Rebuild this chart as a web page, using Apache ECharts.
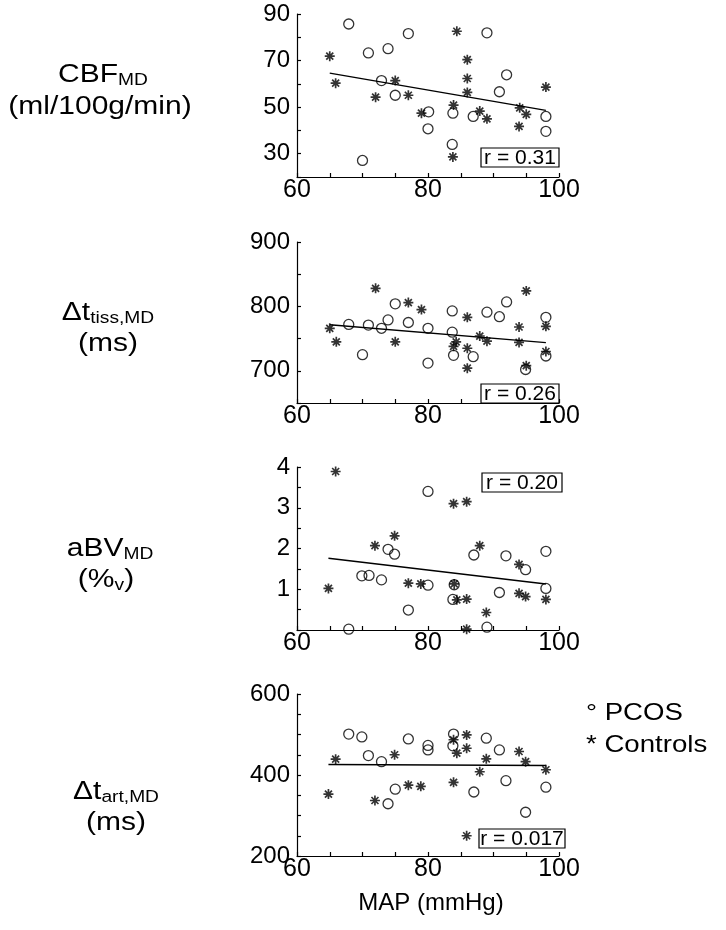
<!DOCTYPE html>
<html>
<head>
<meta charset="utf-8">
<script src="https://cdn.jsdelivr.net/npm/echarts@6/dist/echarts.min.js"></script>
<style>
html,body{margin:0;padding:0;background:#fff;}
#chart{width:726px;height:930px;}
</style>
</head>
<body>
<div id="chart"></div>
<script>
// ---- Panel 1: CBF_MD (ml/100g/min)
const pcosMAP1 = [67.9, 70.9, 73.9, 77.0, 72.9, 75.0, 80.1, 80.0, 70.0, 83.8, 83.7, 86.9, 89.0, 92.0, 90.9, 98.0, 98.0];
const pcosCBF  = [85.7, 73.3, 75.1, 81.6, 61.4, 55.1, 48.0, 40.7, 27.1, 47.4, 34.0, 46.0, 81.9, 63.9, 56.6, 46.0, 39.6];
const ctrlMAP1 = [65.0, 65.9, 72.0, 75.0, 77.0, 79.0, 84.4, 86.0, 86.0, 86.0, 83.9, 87.9, 89.0, 83.8, 94.0, 95.0, 93.9, 98.0];
const ctrlCBF  = [71.9, 60.3, 54.3, 61.4, 55.1, 47.4, 82.6, 70.4, 62.3, 56.3, 50.9, 48.3, 45.0, 28.6, 49.7, 46.9, 41.7, 58.6];
const fitMAP1 = [65.0, 98.0];
const fitCBF  = [64.6, 48.6];

// ---- Panel 2: Δt_tiss,MD (ms)
const pcosMAP2 = [67.9, 70.9, 72.9, 73.9, 75.0, 77.0, 80.0, 70.0, 80.0, 83.7, 83.7, 83.9, 86.9, 89.0, 90.9, 92.0, 98.0, 98.0, 94.9];
const pcosTiss = [772, 771, 766, 779, 804, 775, 766, 725, 712, 793, 760, 724, 722, 791, 784, 807, 783, 723, 702];
const ctrlMAP2 = [65.0, 66.0, 72.0, 75.0, 77.0, 79.0, 86.0, 84.3, 83.9, 86.0, 86.0, 87.9, 89.0, 93.9, 93.9, 95.0, 95.0, 98.0, 98.0];
const ctrlTiss = [766, 745, 828, 745, 806, 795, 783, 745, 738, 735, 704, 754, 746, 768, 744, 824, 708, 769, 730];
const fitMAP2  = [65.0, 98.0];
const fitTiss  = [771.6, 743.8];

// ---- Panel 3: aBV_MD (%v)
const pcosMAP3 = [80.0, 73.9, 74.9, 69.9, 71.0, 72.9, 80.0, 84.0, 83.8, 77.0, 67.9, 87.0, 91.9, 90.9, 94.9, 98.0, 98.0, 89.0];
const pcosABV  = [3.40, 1.98, 1.86, 1.33, 1.34, 1.23, 1.10, 1.11, 0.75, 0.49, 0.02, 1.84, 1.82, 0.92, 1.48, 1.93, 1.02, 0.07];
const ctrlMAP3 = [65.9, 64.8, 71.9, 74.9, 77.0, 78.9, 83.9, 85.9, 87.9, 84.0, 84.4, 85.9, 88.9, 85.9, 93.9, 93.9, 94.9, 98.0];
const ctrlABV  = [3.89, 1.02, 2.07, 2.31, 1.15, 1.13, 3.10, 3.15, 2.07, 1.13, 0.74, 0.76, 0.43, 0.02, 1.61, 0.90, 0.82, 0.75];
const fitMAP3  = [64.8, 98.0];
const fitABV   = [1.76, 1.13];

// ---- Panel 4: Δt_art,MD (ms)
const pcosMAP4 = [67.9, 69.9, 70.9, 72.9, 77.0, 80.0, 80.0, 83.9, 83.8, 88.9, 90.9, 75.0, 73.9, 87.0, 91.9, 94.9, 98.0];
const pcosArt  = [501, 494, 448, 433, 489, 473, 462, 501, 472, 491, 462, 365, 329, 358, 386, 308, 370];
const ctrlMAP4 = [65.9, 64.8, 71.9, 74.9, 77.0, 78.9, 83.9, 84.4, 85.9, 85.9, 83.9, 87.9, 88.9, 93.9, 94.9, 98.0, 85.9];
const ctrlArt  = [439, 353, 337, 450, 375, 372, 487, 454, 499, 466, 382, 408, 440, 458, 433, 413, 250];
const fitMAP4  = [64.8, 98.0];
const fitArt   = [426, 423.5];

// ---- axes / labels
const xTickLabels = [60, 80, 100];
const rTexts = ['r = 0.31', 'r = 0.26', 'r = 0.20', 'r = 0.017'];
const yLabelSets = [[30, 50, 70, 90], [700, 800, 900], [1, 2, 3, 4], [200, 400, 600]];
const yRanges = [[20, 90, 10], [650, 900, 50], [0, 4, 0.5], [200, 600, 50]];

const FONT = '"Liberation Sans", Arial, sans-serif';
const zip = (a, b) => a.map((v, i) => [v, b[i]]);

const panels = [
  {pm: pcosMAP1, pv: pcosCBF, cm: ctrlMAP1, cv: ctrlCBF, fm: fitMAP1, fv: fitCBF},
  {pm: pcosMAP2, pv: pcosTiss, cm: ctrlMAP2, cv: ctrlTiss, fm: fitMAP2, fv: fitTiss},
  {pm: pcosMAP3, pv: pcosABV, cm: ctrlMAP3, cv: ctrlABV, fm: fitMAP3, fv: fitABV},
  {pm: pcosMAP4, pv: pcosArt, cm: ctrlMAP4, cv: ctrlArt, fm: fitMAP4, fv: fitArt}
];

const gridBoxes = [
  {left: 297, top: 14, width: 262, height: 163},
  {left: 297, top: 242, width: 262, height: 161},
  {left: 297, top: 467, width: 262, height: 163},
  {left: 297, top: 694, width: 262, height: 162}
];

const axisLineStyle = {color: '#000', width: 1.2};
const asteriskPath = 'path://M5,0L5,10M0,5L10,5M1.5,1.5L8.5,8.5M1.5,8.5L8.5,1.5';

const grid = gridBoxes.map(g => Object.assign({containLabel: false}, g));
const xAxis = gridBoxes.map((g, i) => ({
  type: 'value', gridIndex: i, min: 60, max: 100, interval: 5,
  axisLine: {show: true, onZero: false, lineStyle: axisLineStyle},
  axisTick: {show: true, inside: true, length: 4, lineStyle: axisLineStyle},
  splitLine: {show: false},
  axisLabel: {
    color: '#000', fontSize: 25, fontFamily: FONT, margin: 1,
    formatter: v => xTickLabels.includes(v) ? String(v) : ''
  }
}));
const yAxis = gridBoxes.map((g, i) => ({
  type: 'value', gridIndex: i, min: yRanges[i][0], max: yRanges[i][1], interval: yRanges[i][2],
  axisLine: {show: true, onZero: false, lineStyle: axisLineStyle},
  axisTick: {show: true, inside: true, length: 4, lineStyle: axisLineStyle},
  splitLine: {show: false},
  axisLabel: {
    color: '#000', fontSize: 24, fontFamily: FONT, margin: 7,
    formatter: v => yLabelSets[i].some(l => Math.abs(l - v) < 1e-9) ? String(v) : ''
  }
}));

const series = [];
panels.forEach((p, i) => {
  series.push({
    type: 'line', xAxisIndex: i, yAxisIndex: i, data: zip(p.fm, p.fv),
    showSymbol: false, symbol: 'none', lineStyle: {color: '#000', width: 1.4}, silent: true, z: 1
  });
  series.push({
    name: 'PCOS', type: 'scatter', xAxisIndex: i, yAxisIndex: i, data: zip(p.pm, p.pv),
    symbol: 'circle', symbolSize: 10,
    itemStyle: {color: 'rgba(0,0,0,0)', borderColor: '#000', borderWidth: 1.3}, z: 3
  });
  series.push({
    name: 'Controls', type: 'scatter', xAxisIndex: i, yAxisIndex: i, data: zip(p.cm, p.cv),
    symbol: asteriskPath, symbolSize: 10,
    itemStyle: {color: 'rgba(0,0,0,0)', borderColor: '#000', borderWidth: 1.7}, z: 3
  });
});

// r boxes
const rBoxes = [
  {x: 481, y: 148, w: 78, h: 19},
  {x: 481, y: 384, w: 78, h: 19},
  {x: 482, y: 473, w: 80, h: 19},
  {x: 479, y: 829, w: 86, h: 19}
];
const graphic = [];
rBoxes.forEach((b, i) => {
  graphic.push({type: 'rect', shape: {x: b.x, y: b.y, width: b.w, height: b.h},
    style: {fill: '#fff', stroke: '#000', lineWidth: 1.2}, z: 10});
  graphic.push({type: 'text', x: b.x + b.w / 2, y: b.y + b.h / 2 + 1, z: 11,
    style: {text: rTexts[i], font: '21px ' + FONT, fill: '#000', align: 'center', verticalAlign: 'middle'}});
});

// y-axis titles with subscripts (slightly wide lettering as in the reference)
const M = {fontSize: 25, fontFamily: FONT, color: '#000', lineHeight: 27};
const S = {fontSize: 16, fontFamily: FONT, color: '#000', lineHeight: 14, verticalAlign: 'bottom'};
const titles = [
  {x: 103, y: 75, t: '{m|CBF}{s|MD}'},
  {x: 100, y: 107, t: '{m|(ml/100g/min)}'},
  {x: 108, y: 313, t: '{m|Δt}{s|tiss,MD}'},
  {x: 108, y: 344, t: '{m|(ms)}'},
  {x: 110, y: 549, t: '{m|aBV}{s|MD}'},
  {x: 106, y: 580, t: '{m|(%}{s|v}{m|)}'},
  {x: 116, y: 792, t: '{m|Δt}{s|art,MD}'},
  {x: 116, y: 823, t: '{m|(ms)}'}
];
titles.forEach(t => {
  graphic.push({type: 'text', x: t.x, y: t.y, scaleX: 1.2,
    style: {text: t.t, rich: {m: M, s: S}, align: 'center', verticalAlign: 'middle'}});
});
graphic.push({type: 'text', x: 431, y: 903,
  style: {text: 'MAP (mmHg)', font: '24px ' + FONT, fill: '#000', align: 'center', verticalAlign: 'middle'}});
// legend
graphic.push({type: 'text', x: 586, y: 713, scaleX: 1.15,
  style: {text: '{o|°} PCOS', rich: {o: {fontSize: 24, fontFamily: FONT, color: '#000'}}, font: '24px ' + FONT, fill: '#000', align: 'left', verticalAlign: 'middle'}});
graphic.push({type: 'text', x: 586, y: 745, scaleX: 1.15,
  style: {text: '* Controls', font: '24px ' + FONT, fill: '#000', align: 'left', verticalAlign: 'middle'}});

const chart = echarts.init(document.getElementById('chart'), null, {renderer: 'canvas'});
chart.setOption({
  animation: false,
  backgroundColor: '#fff',
  grid, xAxis, yAxis, series, graphic
});
</script>
</body>
</html>
